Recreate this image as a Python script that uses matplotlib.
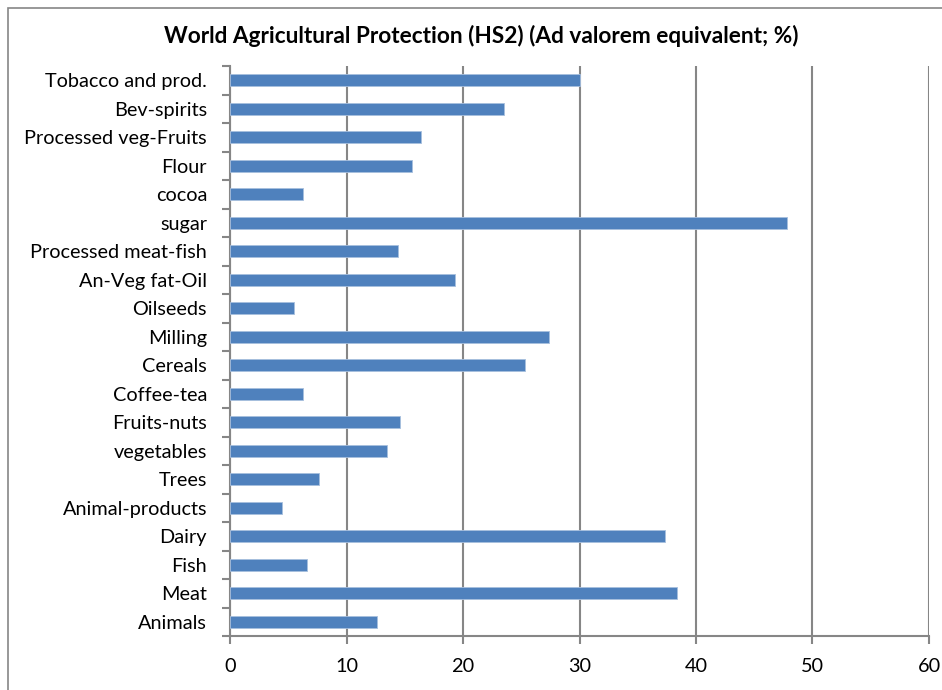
import matplotlib.pyplot as plt
from matplotlib.patches import Rectangle

# categories bottom to top, as in the chart
categories = ["Animals", "Meat", "Fish", "Dairy", "Animal-products", "Trees",
              "vegetables", "Fruits-nuts", "Coffee-tea", "Cereals", "Milling",
              "Oilseeds", "An-Veg fat-Oil", "Processed meat-fish", "sugar",
              "cocoa", "Flour", "Processed veg-Fruits", "Bev-spirits",
              "Tobacco and prod."]
protection = [12.6, 38.4, 6.6, 37.3, 4.5, 7.6,
              13.5, 14.6, 6.3, 25.3, 27.4,
              5.5, 19.3, 14.4, 47.8,
              6.3, 15.6, 16.4, 23.5,
              30.0]
xticks = [0, 10, 20, 30, 40, 50, 60]

plt.rcParams['font.family'] = ['Lato', 'DejaVu Sans']

W, H = 942, 690
fig = plt.figure(figsize=(W / 100, H / 100), dpi=100)
ax = fig.add_axes([230 / W, 1 - 636 / H, (929 - 230) / W, (636 - 66) / H])

# outer chart border
fig.patches.append(Rectangle((8 / W, -0.1), 1.2, 1 - 8 / H + 0.1,
                             transform=fig.transFigure, fill=False,
                             edgecolor="#868686", linewidth=1.2))

ypos = range(len(categories))
ax.barh(ypos, protection, height=0.42, color="#4F81BD",
        edgecolor="#A7BFDE", linewidth=0.6, zorder=3)

ax.set_xlim(0, 60)
ax.set_ylim(-0.5, len(categories) - 0.5)
ax.set_xticks(xticks)
ax.set_yticks(ypos)
ax.set_yticklabels(categories, fontsize=14.3)
ax.set_xticklabels([str(t) for t in xticks], fontsize=14.3)

# gridlines
ax.grid(axis="x", color="#868686", linewidth=1.5, zorder=0)

for s in ["top", "right"]:
    ax.spines[s].set_visible(False)
for s in ["left", "bottom"]:
    ax.spines[s].set_color("#868686")
    ax.spines[s].set_linewidth(1.5)

# minor ticks between categories on the y axis
ax.set_yticks([i - 0.5 for i in range(len(categories) + 1)], minor=True)
ax.tick_params(axis="y", which="major", length=0, pad=16.5)
ax.tick_params(axis="y", which="minor", length=6, color="#868686", width=1.5)
ax.tick_params(axis="x", length=6, color="#868686", width=1.5, pad=10)

fig.text(481 / W, 1 - 36 / H,
         "World Agricultural Protection (HS2) (Ad valorem equivalent; %)",
         ha="center", va="center", fontsize=16.3, fontweight="bold")

fig.savefig("out.png", dpi=100)
